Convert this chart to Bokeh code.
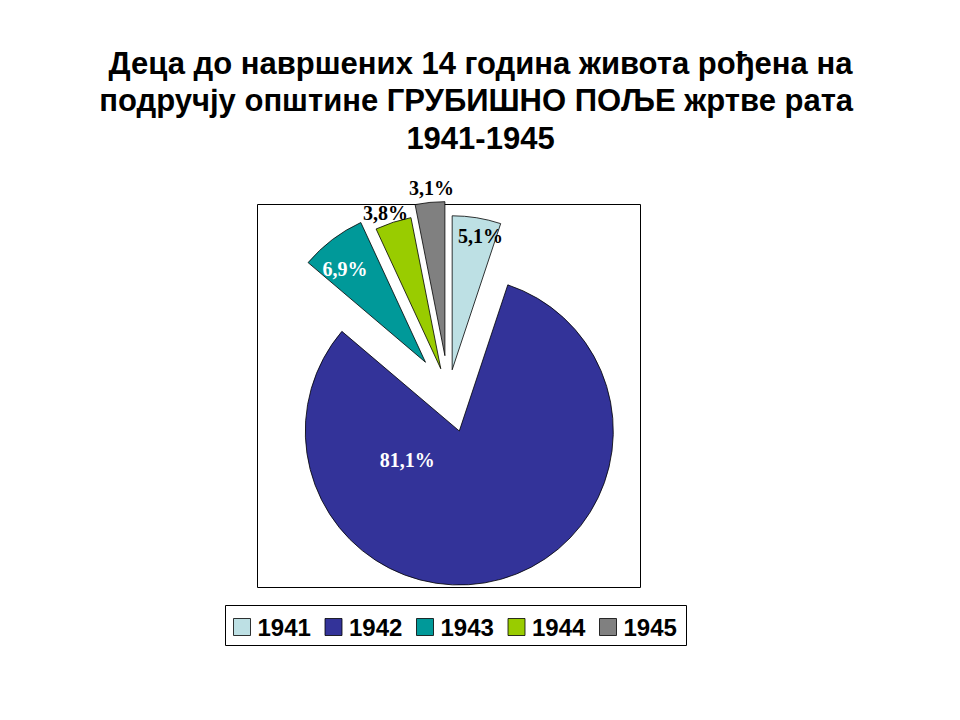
import math
from bokeh.plotting import figure
from bokeh.models import Range1d, ColumnDataSource
from bokeh.core.properties import value
from bokeh.embed import file_html
from bokeh.resources import INLINE

# ---------------- data ----------------
years = ["1941", "1942", "1943", "1944", "1945"]
shares = [5.1, 81.1, 6.9, 3.8, 3.1]
colors = ["#BDE0E4", "#333399", "#009999", "#99CC00", "#808080"]
label_colors = ["black", "white", "white", "black", "black"]
title_lines = [
    "Деца до навршених 14 година живота рођена на",
    "подручју општине ГРУБИШНО ПОЉЕ  жртве рата",
    "1941-1945",
]

# ---------------- layout (page pixel coordinates, y measured from top) ----------------
W, H = 944, 704
def Y(y):  # page y (from top) -> data y
    return 720 - y

CX, CY = 448, 392          # pie centre
R = 154                    # pie radius
explode = [23, 40, 38, 25, 37]
label_frac = [0.885, 0.385, 0.80, 1.076, 1.095]
label_turn = [2.8, 76.8, -3.5, -1.5, 1.0]

p = figure(width=W, height=H, x_range=Range1d(0, W), y_range=Range1d(Y(H), Y(0)),
           output_backend="svg", toolbar_location=None, min_border=0,
           x_axis_location=None, y_axis_location=None)
p.grid.visible = False
p.outline_line_color = None
p.background_fill_color = "white"
p.border_fill_color = "white"

# plot-area frame
p.quad(left=[257], right=[640], top=[Y(204)], bottom=[Y(587)],
       fill_color=None, line_color="black", line_width=1)

# pie slices
total = sum(shares)
a0 = 0.0
xs, ys, starts, ends, lx, ly, ltxt = [], [], [], [], [], [], []
for i, s in enumerate(shares):
    span = s / total * 360.0
    a1 = a0 + span
    mid = math.radians(a0 + span / 2)
    ax = CX + explode[i] * math.sin(mid)
    ay = CY - explode[i] * math.cos(mid)
    xs.append(ax)
    ys.append(Y(ay))
    starts.append(math.radians(90 - a1))
    ends.append(math.radians(90 - a0))
    la = math.radians(a0 + span / 2 + label_turn[i])
    lx.append(ax + label_frac[i] * R * math.sin(la))
    ly.append(Y(ay - label_frac[i] * R * math.cos(la)))
    ltxt.append(f"{s:.1f}".replace(".", ",") + "%")
    a0 = a1

src = ColumnDataSource(dict(x=xs, y=ys, start=starts, end=ends, color=colors,
                            lx=lx, ly=ly, txt=ltxt, tc=label_colors))
p.wedge(x="x", y="y", radius=R, start_angle="start", end_angle="end",
        direction="anticlock", fill_color="color", line_color="black",
        line_width=0.8, source=src)
p.text(x="lx", y="ly", text="txt", text_color="tc", source=src,
       text_font=value("Liberation Serif"), text_font_style="bold",
       text_font_size="20px", text_align="center", text_baseline="middle")

# title
p.text(x=[480] * 3, y=[Y(63), Y(100), Y(137)], text=title_lines,
       text_font=value("Liberation Sans"), text_font_style="bold",
       text_font_size="31px", text_align="center", text_baseline="alphabetic",
       text_color="black")

# legend
p.quad(left=[225], right=[686], top=[Y(605)], bottom=[Y(645)],
       fill_color="white", line_color="black", line_width=1)
sw_x = [233 + i * 91.5 for i in range(len(years))]
p.quad(left=sw_x, right=[x + 17 for x in sw_x], top=[Y(618)] * 5, bottom=[Y(635)] * 5,
       fill_color=colors, line_color="black", line_width=0.8)
p.text(x=[x + 24 for x in sw_x], y=[Y(627)] * 5, text=years,
       text_font=value("Liberation Sans"), text_font_style="bold",
       text_font_size="24px", text_align="left", text_baseline="middle",
       text_color="black")

open("out.html", "w").write(file_html(p, INLINE))
